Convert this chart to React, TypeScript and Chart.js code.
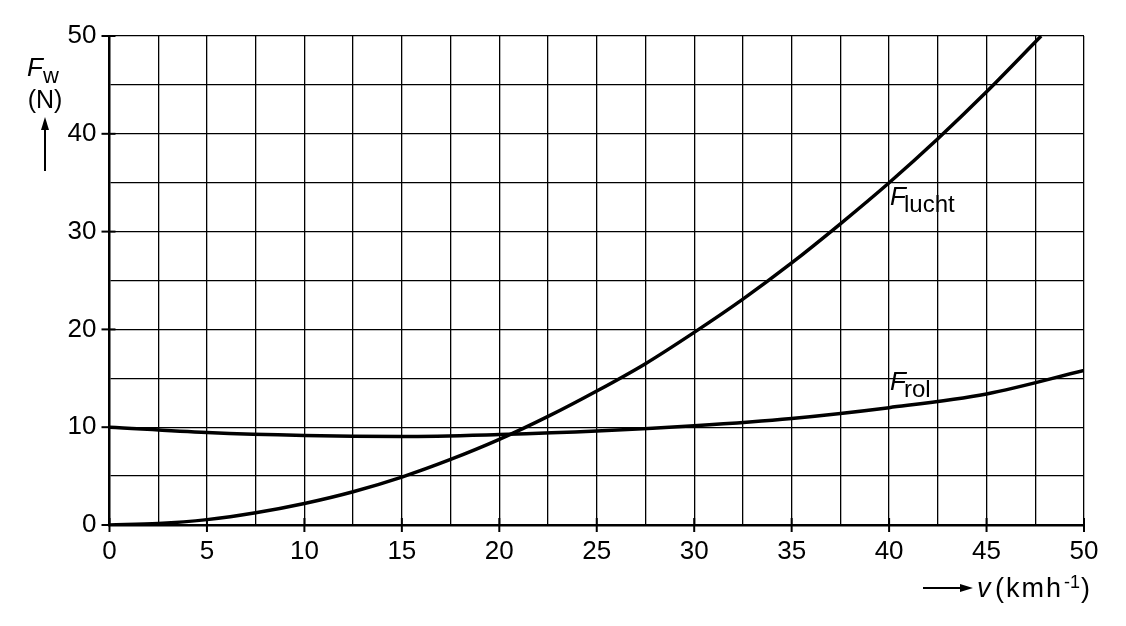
import React, { useEffect, useRef } from "react";
import { Chart, registerables } from "chart.js";

Chart.register(...registerables);

// F_lucht (air resistance)
const luchtV = [0, 2.5, 5, 7.5, 10, 12.5, 15, 17.5, 20, 22.5, 25, 27.5, 30, 32.5, 35, 37.5, 40, 42.5, 45, 47.8];
const luchtF = [0, 0.15, 0.55, 1.25, 2.2, 3.4, 4.9, 6.7, 8.75, 11.1, 13.7, 16.5, 19.7, 23.1, 26.8, 30.8, 35.0, 39.5, 44.3, 50];
// F_rol (rolling resistance)
const rolV = [0, 5, 10, 15, 20, 25, 30, 35, 40, 45, 50];
const rolF = [10, 9.45, 9.15, 9.05, 9.25, 9.6, 10.15, 10.9, 12.0, 13.4, 15.8];

const xMajorTicks = [0, 5, 10, 15, 20, 25, 30, 35, 40, 45, 50];
const yMajorTicks = [0, 10, 20, 30, 40, 50];

const FONT = "'Liberation Sans', Arial, sans-serif";

const overlay = {
  id: "overlay",
  afterDraw(chart: any) {
    const ctx = chart.ctx as CanvasRenderingContext2D;
    const xs = chart.scales.x;
    const ys = chart.scales.y;
    const area = chart.chartArea;
    ctx.save();
    ctx.strokeStyle = "#000";
    ctx.fillStyle = "#000";
    ctx.lineWidth = 2;
    // major tick marks crossing the axes
    xMajorTicks.forEach((v) => {
      const px = xs.getPixelForValue(v);
      ctx.beginPath();
      ctx.moveTo(px, area.bottom - 7);
      ctx.lineTo(px, area.bottom + 7);
      ctx.stroke();
    });
    yMajorTicks.forEach((v) => {
      const py = ys.getPixelForValue(v);
      ctx.beginPath();
      ctx.moveTo(area.left - 8, py);
      ctx.lineTo(area.left + 6, py);
      ctx.stroke();
    });

    const label = (main: string, sub: string, x: number, y: number) => {
      ctx.fillStyle = "#000";
      ctx.font = `italic 26px ${FONT}`;
      const w1 = ctx.measureText(main).width;
      ctx.fillText(main, x, y);
      ctx.font = `24px ${FONT}`;
      ctx.fillText(sub, x + w1 - 2, y + 7);
    };
    ctx.textBaseline = "alphabetic";
    ctx.textAlign = "left";
    label("F", "lucht", xs.getPixelForValue(40) + 1, ys.getPixelForValue(32.7));
    label("F", "rol", xs.getPixelForValue(40) + 1, ys.getPixelForValue(13.8));

    // y axis title
    ctx.font = `italic 26px ${FONT}`;
    ctx.fillText("F", 27, 76);
    ctx.font = `22px ${FONT}`;
    ctx.fillText("w", 43, 83);
    ctx.font = `25px ${FONT}`;
    ctx.textAlign = "center";
    ctx.fillText("(N)", 45, 108);
    ctx.textAlign = "left";
    ctx.lineWidth = 2;
    ctx.beginPath();
    ctx.moveTo(45, 171);
    ctx.lineTo(45, 126);
    ctx.stroke();
    ctx.beginPath();
    ctx.moveTo(45, 117);
    ctx.lineTo(49, 130);
    ctx.lineTo(41, 130);
    ctx.closePath();
    ctx.fill();

    // x axis title
    ctx.beginPath();
    ctx.moveTo(923, 588);
    ctx.lineTo(962, 588);
    ctx.stroke();
    ctx.beginPath();
    ctx.moveTo(973, 588);
    ctx.lineTo(960, 584);
    ctx.lineTo(960, 592);
    ctx.closePath();
    ctx.fill();
    ctx.font = `italic 27px ${FONT}`;
    ctx.fillText("v", 977, 597);
    ctx.font = `27px ${FONT}`;
    (ctx as any).letterSpacing = "2px";
    ctx.fillText("(kmh", 995, 597);
    const wk = ctx.measureText("(kmh").width;
    (ctx as any).letterSpacing = "0px";
    ctx.font = `18px ${FONT}`;
    ctx.fillText("-1", 995 + wk + 1, 588);
    const ws = ctx.measureText("-1").width;
    ctx.font = `27px ${FONT}`;
    ctx.fillText(")", 995 + wk + ws + 2, 597);
    ctx.restore();
  },
};

export default function App() {
  const ref = useRef<HTMLCanvasElement | null>(null);
  useEffect(() => {
    document.body.style.margin = "0";
    const canvas = ref.current!;
    const chart = new Chart(canvas, {
      type: "line",
      data: {
        datasets: [
          {
            label: "F_lucht",
            data: luchtV.map((v, i) => ({ x: v, y: luchtF[i] })),
            borderColor: "#000",
            borderWidth: 3.5,
            pointRadius: 0,
            cubicInterpolationMode: "monotone",
            fill: false,
          },
          {
            label: "F_rol",
            data: rolV.map((v, i) => ({ x: v, y: rolF[i] })),
            borderColor: "#000",
            borderWidth: 3.5,
            pointRadius: 0,
            cubicInterpolationMode: "monotone",
            fill: false,
          },
        ],
      },
      options: {
        responsive: false,
        animation: false,
        devicePixelRatio: 1,
        layout: { padding: { left: 0, right: 42, top: 36, bottom: 0 } },
        plugins: { legend: { display: false }, tooltip: { enabled: false } },
        scales: {
          x: {
            type: "linear",
            min: 0,
            max: 50,
            afterFit: (s: any) => {
              s.height = 101;
            },
            grid: {
              color: (c: any) => (c.tick && c.tick.value === 0 ? "rgba(0,0,0,0)" : "#000"),
              lineWidth: 1.3,
              drawTicks: false,
            },
            border: { display: true, color: "#000", width: 2.5 },
            ticks: {
              stepSize: 2.5,
              autoSkip: false,
              maxRotation: 0,
              padding: 11,
              color: "#000",
              font: { family: FONT, size: 26 },
              callback: (v: any) => (Number(v) % 5 === 0 ? String(v) : ""),
            },
          },
          y: {
            type: "linear",
            min: 0,
            max: 50,
            afterFit: (s: any) => {
              s.width = 109.5;
            },
            grid: {
              color: (c: any) => (c.tick && c.tick.value === 0 ? "rgba(0,0,0,0)" : "#000"),
              lineWidth: 1.3,
              drawTicks: false,
            },
            border: { display: true, color: "#000", width: 2.5 },
            ticks: {
              stepSize: 5,
              autoSkip: false,
              padding: 13,
              color: "#000",
              font: { family: FONT, size: 26 },
              callback: (v: any) => (Number(v) % 10 === 0 ? String(v) : ""),
            },
          },
        },
      },
      plugins: [overlay],
    } as any);
    return () => chart.destroy();
  }, []);
  return (
    <div style={{ position: "fixed", left: 0, top: 0, width: 1126, height: 626, background: "#fff" }}>
      <canvas ref={ref} width={1126} height={626} style={{ width: 1126, height: 626, display: "block" }} />
    </div>
  );
}
